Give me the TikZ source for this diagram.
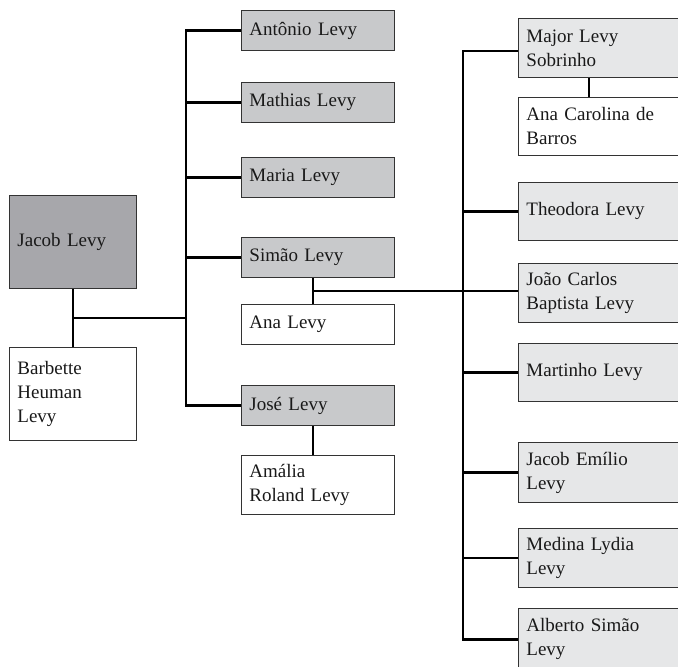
\documentclass[tikz,border=0pt]{standalone}
\usepackage{fontspec}
\setmainfont{Liberation Serif}
\usetikzlibrary{calc}
\definecolor{gen1}{HTML}{A7A7AB}
\definecolor{gen2}{HTML}{C8C9CB}
\definecolor{gen3}{HTML}{E6E7E8}
\definecolor{bordercol}{HTML}{333333}
\tikzset{
  fambox/.style={draw=bordercol, line width=0.9pt, inner xsep=8pt, inner ysep=0pt,
    anchor=north west, align=left, font=\fontsize{19}{24}\selectfont, text=black!90},
  conn/.style={line width=2.6pt, draw=black}
}
\newcommand\famnode[7]{%
  \pgfmathsetmacro\fbw{#4-#2}%
  \pgfmathsetmacro\fbh{#5-#3}%
  \pgfmathsetmacro\fbt{#4-#2-16}%
  \node[fambox, fill=#6, minimum width=\fbw pt, minimum height=\fbh pt, text width=\fbt pt] (#1) at (#2,#3) {#7};%
}
\begin{document}
\begin{tikzpicture}[x=1pt,y=-1pt]
\useasboundingbox (0,0) rectangle (678,667);
\clip (0,0) rectangle (678,667);
\fill[white] (0,0) rectangle (678,667);
% generation 1
\famnode{jacob}{9}{195}{136}{288}{gen1}{Jacob Levy}
\famnode{barbette}{9}{347}{136}{440}{white}{Barbette\\Heuman\\Levy}
% generation 2
\famnode{antonio}{241}{10}{394}{50}{gen2}{Antônio Levy}
\famnode{mathias}{241}{82}{394}{122}{gen2}{Mathias Levy}
\famnode{maria}{241}{157}{394}{197}{gen2}{Maria Levy}
\famnode{simao}{241}{237}{394}{277}{gen2}{Simão Levy}
\famnode{ana}{241}{304}{394}{344}{white}{Ana Levy}
\famnode{jose}{241}{385}{394}{425}{gen2}{José Levy}
\famnode{amalia}{241}{455}{394}{514}{white}{Amália\\Roland Levy}
% generation 3
\famnode{major}{518}{18}{700}{77}{gen3}{Major Levy\\Sobrinho}
\famnode{anacarolina}{518}{97}{700}{155}{white}{Ana Carolina de\\Barros}
\famnode{theodora}{518}{182}{700}{240}{gen3}{Theodora Levy}
\famnode{joao}{518}{263}{700}{322}{gen3}{João Carlos\\Baptista Levy}
\famnode{martinho}{518}{343}{700}{401}{gen3}{Martinho Levy}
\famnode{jacobemilio}{518}{442}{700}{502}{gen3}{Jacob Emílio\\Levy}
\famnode{medina}{518}{528}{700}{587}{gen3}{Medina Lydia\\Levy}
\famnode{alberto}{518}{608}{700}{670}{gen3}{Alberto Simão\\Levy}
% helper coordinates
\coordinate (t1) at (186,0);
\coordinate (t2) at (463,0);
\coordinate (sx) at (313,0);
\coordinate (mx) at (589,0);
\coordinate (jmid) at ($(jacob.south)!0.5!(barbette.north)$);
\coordinate (smid) at ($(sx |- simao.south)!0.5!(sx |- ana.north)$);
\coordinate (mline) at (0,51);
% connectors gen 1
\draw[conn] (jacob.south) -- (barbette.north);
\draw[conn] (jmid) -- (jmid -| t1);
\draw[conn] (antonio.west) -| (t1 |- jose.west) -- (jose.west);
\draw[conn] (t1 |- mathias.west) -- (mathias.west);
\draw[conn] (t1 |- maria.west) -- (maria.west);
\draw[conn] (t1 |- simao.west) -- (simao.west);
% connectors gen 2
\draw[conn] (sx |- simao.south) -- (sx |- ana.north);
\draw[conn] (sx |- jose.south) -- (sx |- amalia.north);
\draw[conn] (smid) -- (smid -| joao.west);
\draw[conn] (mline -| major.west) -| (t2 |- alberto.west) -- (alberto.west);
\draw[conn] (mx |- major.south) -- (mx |- anacarolina.north);
\draw[conn] (t2 |- theodora.west) -- (theodora.west);
\draw[conn] (t2 |- martinho.west) -- (martinho.west);
\draw[conn] (t2 |- jacobemilio.west) -- (jacobemilio.west);
\draw[conn] (t2 |- medina.west) -- (medina.west);
\end{tikzpicture}
\end{document}
